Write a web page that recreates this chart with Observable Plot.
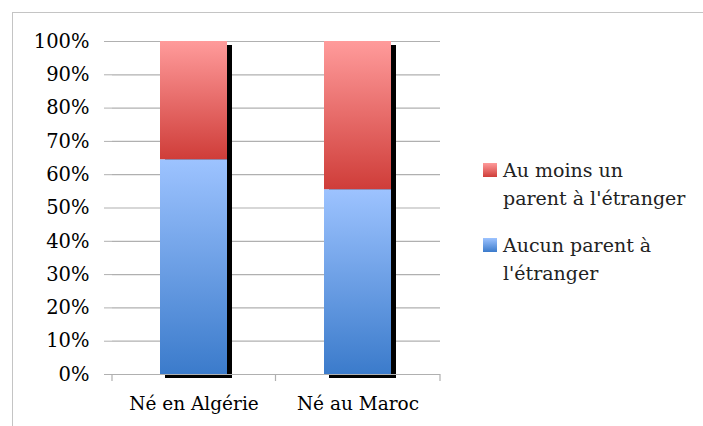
<!DOCTYPE html>
<html><head><meta charset="utf-8">
<script src="https://cdn.jsdelivr.net/npm/d3@7"></script>
<script src="https://cdn.jsdelivr.net/npm/@observablehq/plot@0.6"></script>
<style>
body{margin:0;background:#fff;overflow:hidden;}
#wrap{position:relative;width:703px;height:426px;overflow:hidden;}
#border{position:absolute;left:12px;top:12px;width:720px;height:440px;border:1px solid #c4c4c4;box-sizing:border-box;}
#chart{position:absolute;left:0;top:0;}
#legend{position:absolute;left:483px;top:156px;font-family:"DejaVu Serif",serif;font-size:19px;color:#222;line-height:28px;}
.item{position:relative;padding-left:20px;margin-bottom:19px;}
.sw{position:absolute;left:0;top:7px;width:14px;height:14px;}
</style></head>
<body><div id="wrap"><div id="border"></div><div id="chart"></div><div id="legend"></div></div>
<script>
const categories = ["Né en Algérie", "Né au Maroc"];
const aucunParent = [64.5, 55.5];
const auMoinsUn = [35.5, 44.5];
const seriesNames = ["Au moins un parent à l'étranger", "Aucun parent à l'étranger"];
const yTicks = [0, 10, 20, 30, 40, 50, 60, 70, 80, 90, 100];

const lower = categories.map((c, i) => ({cat: c, y1: 0, y2: aucunParent[i]}));
const upper = categories.map((c, i) => ({cat: c, y1: aucunParent[i], y2: aucunParent[i] + auMoinsUn[i]}));
const totals = categories.map((c, i) => ({cat: c, y1: 0, y2: aucunParent[i] + auMoinsUn[i]}));

const font = "'DejaVu Serif', serif";
const plot = Plot.plot({
  width: 460, height: 426,
  marginLeft: 112, marginRight: 20, marginTop: 41, marginBottom: 52,
  style: {fontFamily: font, fontSize: "18px", color: "#000", background: "transparent"},
  x: {domain: categories, paddingInner: 0.59, paddingOuter: 0.295, label: null},
  y: {domain: [0, 100], label: null},
  marks: [
    Plot.ruleY(yTicks, {stroke: "#b0b0b0", strokeWidth: 1.2}),
    Plot.axisY({ticks: yTicks, tickSize: 8, tickPadding: 15, stroke: "#b0b0b0", tickFormat: d => d + "%", fill: "#000", fontSize: 19.5, fontFamily: font}),
    Plot.barY(totals, {x: "cat", y1: "y1", y2: "y2", fill: "#000", dx: 5, dy: 4}),
    Plot.ruleX([0], {frameAnchor: "left", stroke: "#b0b0b0", strokeWidth: 1.2}),
    Plot.barY(lower, {x: "cat", y1: "y1", y2: "y2", fill: "url(#gBlue)"}),
    Plot.barY(upper, {x: "cat", y1: "y1", y2: "y2", fill: "url(#gRed)"}),
    Plot.ruleY([0], {stroke: "#b0b0b0", strokeWidth: 1.2}),
    Plot.axisX({tickSize: 0, tickPadding: 22, fill: "#000", fontSize: 18.5, fontFamily: font})
  ]
});
document.getElementById("chart").appendChild(plot);

const svg = d3.select(plot);
const defs = svg.insert("defs", ":first-child");
function grad(id, top, bottom) {
  const g = defs.append("linearGradient").attr("id", id).attr("x1", 0).attr("y1", 0).attr("x2", 0).attr("y2", 1);
  g.append("stop").attr("offset", "0%").attr("stop-color", top);
  g.append("stop").attr("offset", "100%").attr("stop-color", bottom);
}
grad("gRed", "#ff9b9b", "#cf3d39");
grad("gBlue", "#9dc3ff", "#3b7bcb");

// category separator ticks on x axis
const xs = plot.scale("x");
const ys = plot.scale("y");
const y0 = ys.apply(0);
const left = 112, right = 440;
[left, (xs.apply(categories[0]) + xs.bandwidth + xs.apply(categories[1])) / 2, right].forEach(x => {
  svg.append("line").attr("x1", x).attr("x2", x).attr("y1", y0).attr("y2", y0 + 7).attr("stroke", "#b0b0b0").attr("stroke-width", 1.2);
});

const legend = d3.select("#legend");
const legendColors = [["#ff9b9b", "#cf3d39"], ["#9dc3ff", "#3b7bcb"]];
seriesNames.forEach((name, i) => {
  const it = legend.append("div").attr("class", "item");
  it.append("div").attr("class", "sw").style("background", `linear-gradient(${legendColors[i][0]}, ${legendColors[i][1]})`);
  const words = i === 0 ? ["Au moins un", "parent à l'étranger"] : ["Aucun parent à", "l'étranger"];
  it.append("div").html(words.join("<br>"));
});
</script></body></html>
